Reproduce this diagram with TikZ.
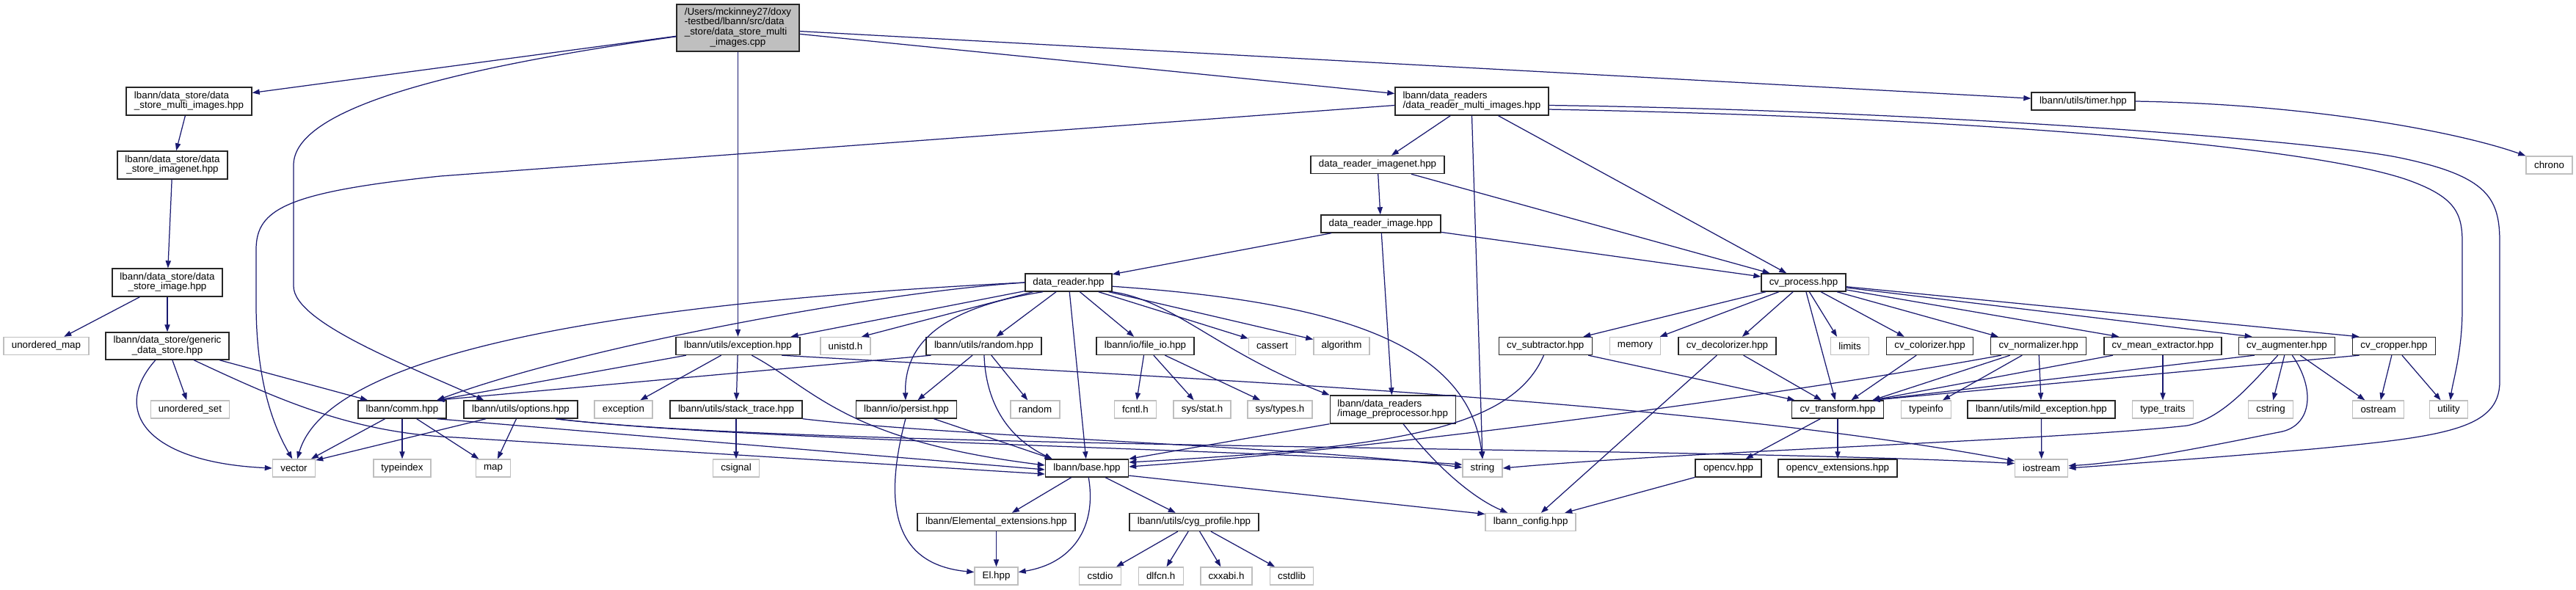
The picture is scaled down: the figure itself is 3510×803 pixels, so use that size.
\documentclass[tikz,border=0pt]{standalone}
\usepackage{fontspec}
\setmainfont{Liberation Sans}
\usetikzlibrary{arrows.meta}
\definecolor{edgecol}{HTML}{191970}
\definecolor{extcol}{HTML}{BFBFBF}
\newcommand\dxfont{\fontsize{6.67pt}{6.67pt}\selectfont}
\newcommand\lastc[1]{\multicolumn{1}{@{}c@{}}{#1}}
\begin{document}
\begin{tikzpicture}[x=0.5pt,y=-0.5pt,
  nd/.style={draw=black!85, line width=0.7pt, fill=white, inner sep=0pt, minimum height=12pt, font=\dxfont, text=black},
  ext/.style={nd, draw=extcol},
  wd/.style={minimum width=#1*0.5pt},
  ht/.style={minimum height=#1*0.5pt},
  conn/.style={draw=edgecol, line width=0.62pt, -{Triangle[length=5pt,width=3.6pt]}}]
\useasboundingbox (0,0) rectangle (3510,803);
\fill[white] (0,0) rectangle (3510,803);

% ---------- nodes ----------
\node[nd, fill=extcol, wd=167, ht=64] (main) at (1005.5,38) {\begin{tabular}{@{}l@{}}/Users/mckinney27/doxy\\-testbed/lbann/src/data\\\_store/data\_store\_multi\\\lastc{\_images.cpp}\end{tabular}};

\node[nd, wd=171, ht=38] (dsmulti) at (257.5,138) {\begin{tabular}{@{}l@{}}lbann/data\_store/data\\\lastc{\_store\_multi\_images.hpp}\end{tabular}};
\node[nd, wd=209, ht=38] (drmulti) at (2005.5,138) {\begin{tabular}{@{}l@{}}lbann/data\_readers\\\lastc{/data\_reader\_multi\_images.hpp}\end{tabular}};
\node[nd, wd=141] (timer) at (2838.5,138) {lbann/utils/timer.hpp};

\node[nd, wd=150, ht=38] (dsimagenet) at (235,225) {\begin{tabular}{@{}l@{}}lbann/data\_store/data\\\lastc{\_store\_imagenet.hpp}\end{tabular}};
\node[nd, wd=182] (drimagenet) at (1877,224.5) {data\_reader\_imagenet.hpp};
\node[ext, wd=63] (chrono) at (3473.5,225) {chrono};

\node[nd, wd=163] (drimage) at (1881.5,305) {data\_reader\_image.hpp};

\node[nd, wd=150, ht=38] (dsimage) at (228,385) {\begin{tabular}{@{}l@{}}lbann/data\_store/data\\\lastc{\_store\_image.hpp}\end{tabular}};
\node[nd, wd=118] (dreader) at (1456,385) {data\_reader.hpp};
\node[nd, wd=115] (cvproc) at (2457.5,385) {cv\_process.hpp};

% row 471
\node[ext, wd=116] (umap) at (63,471.5) {unordered\_map};
\node[nd, wd=168, ht=37] (generic) at (228,471.5) {\begin{tabular}{@{}l@{}}lbann/data\_store/generic\\\lastc{\_data\_store.hpp}\end{tabular}};
\node[nd, wd=169] (excp) at (1005.5,471.5) {lbann/utils/exception.hpp};
\node[ext, wd=68] (unistd) at (1152,471.5) {unistd.h};
\node[nd, wd=157] (randomh) at (1340.5,471.5) {lbann/utils/random.hpp};
\node[nd, wd=133] (fileio) at (1560.5,471.5) {lbann/io/file\_io.hpp};
\node[ext, wd=64] (cassert) at (1733.5,471.5) {cassert};
\node[ext, wd=76] (algorithm) at (1828,471.5) {algorithm};
\node[nd, wd=127] (cvsub) at (2105.7,471.5) {cv\_subtractor.hpp};
\node[ext, wd=69] (memory) at (2228,471.5) {memory};
\node[nd, wd=133] (cvdecol) at (2353.5,471.5) {cv\_decolorizer.hpp};
\node[ext, wd=52] (limits) at (2520.5,471.5) {limits};
\node[nd, wd=118] (cvcol) at (2629.6,471.5) {cv\_colorizer.hpp};
\node[nd, wd=130] (cvnorm) at (2777.7,471.5) {cv\_normalizer.hpp};
\node[nd, wd=160] (cvmean) at (2947,471.5) {cv\_mean\_extractor.hpp};
\node[nd, wd=131] (cvaug) at (3116,471.5) {cv\_augmenter.hpp};
\node[nd, wd=113] (cvcrop) at (3262,471.5) {cv\_cropper.hpp};

% row 558
\node[ext, wd=107] (uset) at (259,558) {unordered\_set};
\node[nd, wd=120] (comm) at (548,558) {lbann/comm.hpp};
\node[nd, wd=155] (options) at (709.5,558) {lbann/utils/options.hpp};
\node[ext, wd=79] (stdexc) at (849.5,558) {exception};
\node[nd, wd=180] (stack) at (1003,558) {lbann/utils/stack\_trace.hpp};
\node[nd, wd=137] (persist) at (1235,558) {lbann/io/persist.hpp};
\node[ext, wd=67] (random) at (1410.5,558) {random};
\node[ext, wd=57] (fcntl) at (1547,558) {fcntl.h};
\node[ext, wd=78] (sysstat) at (1638,558) {sys/stat.h};
\node[ext, wd=88] (systypes) at (1744,558) {sys/types.h};
\node[nd, wd=171, ht=38] (imgpre) at (1897.7,558) {\begin{tabular}{@{}l@{}}lbann/data\_readers\\\lastc{/image\_preprocessor.hpp}\end{tabular}};
\node[nd, wd=125] (cvtrans) at (2504,558) {cv\_transform.hpp};
\node[ext, wd=68] (typeinfo) at (2624.5,558) {typeinfo};
\node[nd, wd=201] (mildexc) at (2781.5,558) {lbann/utils/mild\_exception.hpp};
\node[ext, wd=83] (typetraits) at (2947,558) {type\_traits};
\node[ext, wd=61] (cstring) at (3094,558) {cstring};
\node[ext, wd=70] (ostream) at (3240.6,558) {ostream};
\node[ext, wd=52] (utility) at (3336.5,558) {utility};

% row 638
\node[ext, wd=58] (vector) at (400.5,638) {vector};
\node[ext, wd=78] (typeindex) at (548,638) {typeindex};
\node[ext, wd=47] (map) at (672,638) {map};
\node[ext, wd=63] (csignal) at (1003,638) {csignal};
\node[nd, wd=113] (base) at (1481,638) {lbann/base.hpp};
\node[ext, wd=54] (string) at (2020,638) {string};
\node[nd, wd=90] (opencv) at (2355,638) {opencv.hpp};
\node[nd, wd=162] (opencvext) at (2504,638) {opencv\_extensions.hpp};
\node[ext, wd=72] (iostream) at (2781.7,638) {iostream};

% row 711
\node[nd, wd=215] (elemext) at (1357.5,711.5) {lbann/Elemental\_extensions.hpp};
\node[nd, wd=176] (cyg) at (1627,711.5) {lbann/utils/cyg\_profile.hpp};
\node[ext, wd=123] (lconfig) at (2085.6,711.5) {lbann\_config.hpp};

% row 785
\node[ext, wd=59] (el) at (1357.5,785) {El.hpp};
\node[ext, wd=57] (cstdio) at (1499,785) {cstdio};
\node[ext, wd=61] (dlfcn) at (1581.7,785) {dlfcn.h};
\node[ext, wd=70] (cxxabi) at (1671,785) {cxxabi.h};
\node[ext, wd=59] (cstdlib) at (1760,785) {cstdlib};

% ---------- edges ----------
% main
\draw[conn] (main) -- (dsmulti);
\draw[conn] (main) -- (drmulti);
\draw[conn] (main) -- (timer);
\draw[conn] (main) -- (excp);
\draw[conn] (main.188) .. controls (600,95) and (400,150) .. (400,225) -- (400,390) .. controls (400,440) and (560,500) .. ([xshift=14pt]options.north west);

% data store chain
\draw[conn] (dsmulti) -- (dsimagenet);
\draw[conn] (dsimagenet) -- (dsimage);
\draw[conn] (dsimage) -- (umap);
\draw[conn] (dsimage) -- (generic);
\draw[conn] (generic) -- (uset);
\draw[conn] (generic) -- (comm);
\draw[conn] (generic.230) .. controls (150,560) and (200,630) .. (vector.west);
\draw[conn] (generic.-28) .. controls (380,545) and (480,590) .. (620,596) -- (base.188);

% comm
\draw[conn] (comm) -- (vector);
\draw[conn] (comm) -- (typeindex);
\draw[conn] (comm) -- (map);
\draw[conn] (comm.-15) -- (base.182);

% options
\draw[conn] (options.195) -- (vector.20);
\draw[conn] (options) -- (map);
\draw[conn] (options.-15) .. controls (1000,600) and (1700,612) .. (string.170);
\draw[conn] (options.-15) .. controls (1100,612) and (2300,608) .. (iostream.170);

% stack trace
\draw[conn] (stack) -- (csignal);
\draw[conn] (stack.south east) .. controls (1300,595) and (1800,610) .. (string.178);

% exception
\draw[conn] (excp) -- (comm.15);
\draw[conn] (excp) -- (stdexc);
\draw[conn] (excp) -- (stack);
\draw[conn] (excp.-34) .. controls (1110,530) and (1150,600) .. (base.176);
\draw[conn] (excp.-12.5) .. controls (1600,515) and (2300,545) .. (iostream.165);

% data_reader
\draw[conn] (dreader.west) .. controls (900,410) and (450,470) .. (vector.70);
\draw[conn] (dreader.west) .. controls (1200,398) and (800,470) .. (comm.15);
\draw[conn] (dreader) -- (excp.10);
\draw[conn] (dreader) -- (unistd.30);
\draw[conn] (dreader.200) .. controls (1280,420) and (1232,470) .. (persist.95);
\draw[conn] (dreader) -- (randomh);
\draw[conn] (dreader) -- (base);
\draw[conn] (dreader) -- (fileio);
\draw[conn] (dreader) -- (cassert);
\draw[conn] (dreader) -- (algorithm);
\draw[conn] (dreader.south east) .. controls (1600,410) and (1660,480) .. (imgpre.north west);
\draw[conn] (dreader.-5) .. controls (1800,410) and (2000,460) .. (string.north);

% random.hpp
\draw[conn] (randomh.190) -- (comm.15);
\draw[conn] (randomh) -- (persist);
\draw[conn] (randomh) -- (random);
\draw[conn] (randomh.-88) .. controls (1343,545) and (1370,595) .. (base.165);

% persist
\draw[conn] (persist) -- (base.165);
\draw[conn] (persist.-95) .. controls (1200,700) and (1225,770) .. (el.170);

% base
\draw[conn] (base) -- (elemext);
\draw[conn] (base) -- (cyg);
\draw[conn] (base.-80) .. controls (1495,720) and (1460,768) .. (el.10);
\draw[conn] (base.-10) -- (lconfig.170);
\draw[conn] (elemext) -- (el);
\draw[conn] (cyg) -- (cstdio);
\draw[conn] (cyg) -- (dlfcn);
\draw[conn] (cyg) -- (cxxabi);
\draw[conn] (cyg) -- (cstdlib);

% file_io
\draw[conn] (fileio) -- (fcntl);
\draw[conn] (fileio) -- (sysstat);
\draw[conn] (fileio) -- (systypes);

% data_reader_multi_images
\draw[conn] (drmulti) -- (drimagenet);
\draw[conn] (drmulti) -- (cvproc);
\draw[conn] (drmulti.south) -- (string.north);
\draw[conn] (drmulti.183) -- (600,240) .. controls (390,262) and (349,285) .. (349,340) -- (349,420) .. controls (350,520) and (372,580) .. (vector.100);
\draw[conn] (drmulti.-3) .. controls (2600,150) and (3150,190) .. (3270,215) .. controls (3390,240) and (3406,270) .. (3406,330) -- (3406,520) .. controls (3406,585) and (3330,595) .. (3150,612) .. controls (3000,625) and (2900,632) .. (iostream.east);
\draw[conn] (drmulti.-6) .. controls (2700,160) and (3150,200) .. (3280,245) .. controls (3345,268) and (3355,290) .. (3355,330) -- (3355,420) .. controls (3355,480) and (3342,520) .. (utility.80);

% imagenet / image readers
\draw[conn] (drimagenet) -- (drimage);
\draw[conn] (drimagenet) -- (cvproc);
\draw[conn] (drimage) -- (dreader);
\draw[conn] (drimage) -- (imgpre);
\draw[conn] (drimage) -- (cvproc);

% image_preprocessor
\draw[conn] (imgpre.south west) -- (base.north east);
\draw[conn] (imgpre.-54) .. controls (1960,640) and (2010,680) .. (lconfig.158);

% cv_process
\draw[conn] (cvproc) -- (cvsub);
\draw[conn] (cvproc) -- (memory);
\draw[conn] (cvproc) -- (cvdecol.32);
\draw[conn] (cvproc) -- (limits.144);
\draw[conn] (cvproc) -- (cvcol.160);
\draw[conn] (cvproc) -- (cvnorm.167);
\draw[conn] (cvproc) -- (cvmean.168);
\draw[conn] (cvproc) -- (cvaug.165);
\draw[conn] (cvproc) -- (cvcrop.165);
\draw[conn] (cvproc) -- (cvtrans);

% cv filters
\draw[conn] (cvsub) -- (cvtrans);
\draw[conn] (cvsub.-100) .. controls (2060,585) and (1900,610) .. (base.8);
\draw[conn] (cvdecol) -- (cvtrans);
\draw[conn] (cvdecol) -- (lconfig);
\draw[conn] (cvcol) -- (cvtrans);
\draw[conn] (cvnorm) -- (cvtrans.15);
\draw[conn] (cvnorm) -- (typeinfo);
\draw[conn] (cvnorm) -- (mildexc);
\draw[conn] (cvnorm.-166) .. controls (2450,535) and (1900,610) .. (base.2);
\draw[conn] (cvmean) -- (cvtrans.15);
\draw[conn] (cvmean) -- (typetraits);
\draw[conn] (cvaug.-164) -- (cvtrans.15);
\draw[conn] (cvaug) -- (cstring);
\draw[conn] (cvaug) -- (ostream);
\draw[conn] (cvaug.-134) .. controls (3070,520) and (3030,570) .. (2980,580) .. controls (2800,600) and (2300,615) .. (string.east);
\draw[conn] (cvaug.-60) .. controls (3155,530) and (3150,578) .. (3110,588) .. controls (3000,610) and (2900,630) .. (iostream.5);
\draw[conn] (cvcrop.-165) -- (cvtrans.15);
\draw[conn] (cvcrop) -- (ostream);
\draw[conn] (cvcrop) -- (utility);

% transform & misc
\draw[conn] (cvtrans) -- (opencv);
\draw[conn] (cvtrans) -- (opencvext);
\draw[conn] (opencv) -- (lconfig);
\draw[conn] (mildexc) -- (iostream);
\draw[conn] (timer.east) .. controls (3150,142) and (3350,180) .. (chrono.north west);
\end{tikzpicture}
\end{document}
